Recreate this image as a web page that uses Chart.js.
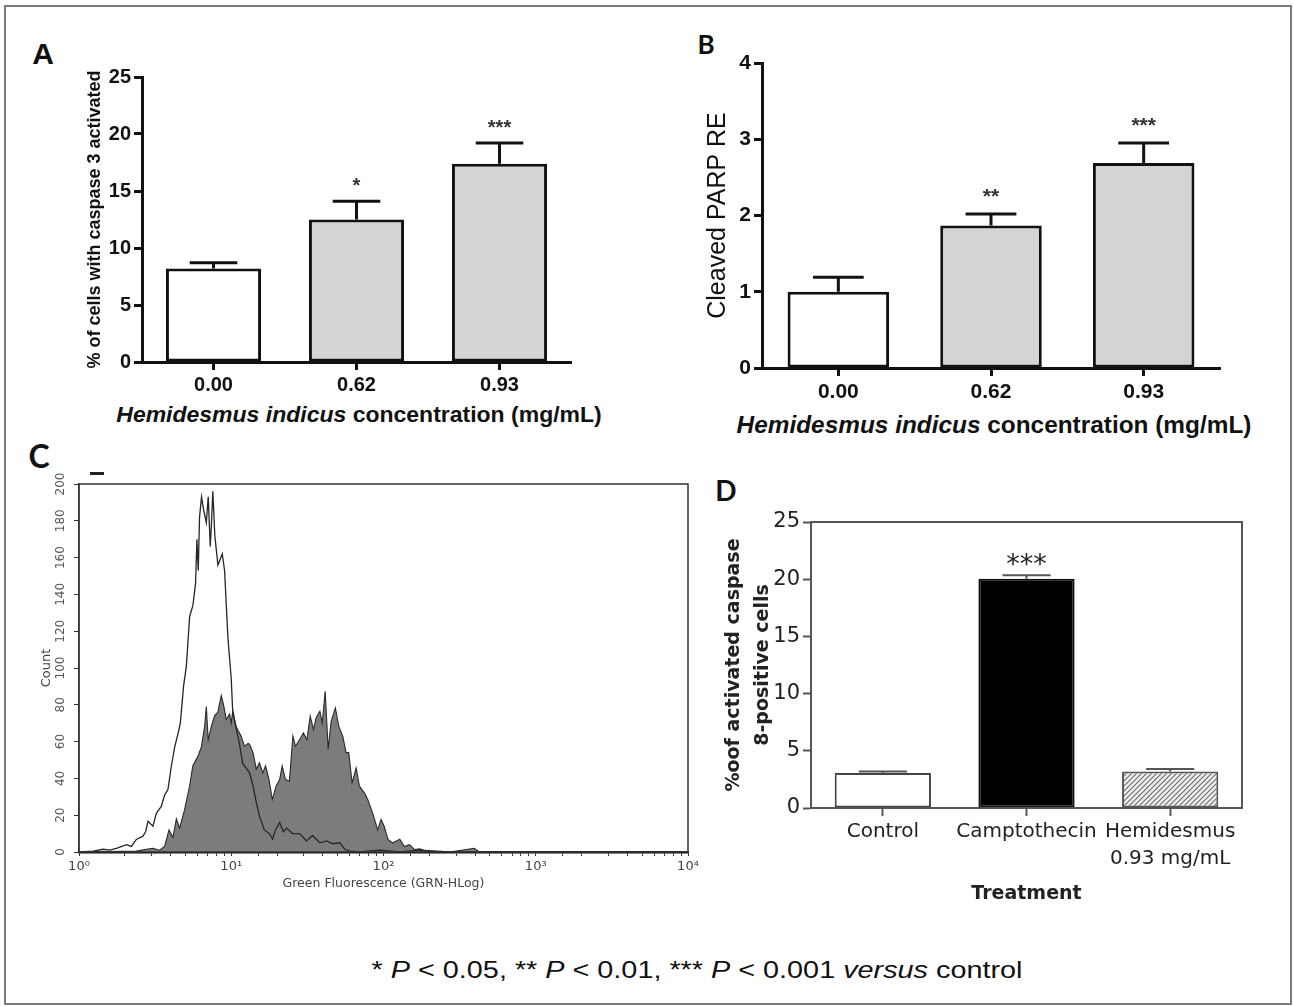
<!DOCTYPE html>
<html>
<head>
<meta charset="utf-8">
<script src="https://cdn.jsdelivr.net/npm/chart.js@4.4.1/dist/chart.umd.min.js"></script>
<style>
  body { margin: 0; background: #fff; }
  #page { position: relative; width: 1293px; height: 1006px; overflow: hidden; background: #fff; }
  .frame { position: absolute; left: 4px; top: 5px; width: 1284px; height: 996px; border: 2px solid #7b7b7b; }
  canvas { position: absolute; }
  .txt { position: absolute; white-space: nowrap; transform: translate(-50%, -50%); color: #111; line-height: 1; }
</style>
</head>
<body>
<div id="page">
  <div class="frame"></div>

  <div class="txt" style="left:43px;top:54px;font:bold 30px 'Liberation Sans';">A</div>
  <div class="txt" style="left:706px;top:44px;font:bold 26px Lato;">B</div>
  <div class="txt" style="left:39px;top:455px;font:bold 32px Lato;">C</div>
  <div class="txt" style="left:726px;top:490px;font:bold 28px Lato;">D</div>

  <canvas id="chartA" width="560" height="345" style="left:40px;top:55px"></canvas>
  <canvas id="chartB" width="600" height="370" style="left:660px;top:40px"></canvas>
  <canvas id="chartC" width="690" height="440" style="left:20px;top:462px"></canvas>
  <canvas id="chartD" width="580" height="420" style="left:700px;top:490px"></canvas>

  <div class="txt" style="left:359px;top:415px;font:bold 22px 'Liberation Sans';transform:translate(-50%,-50%) scaleX(1.045);"><i>Hemidesmus indicus</i> concentration (mg/mL)</div>
  <div class="txt" style="left:994px;top:425px;font:bold 23px 'Liberation Sans';transform:translate(-50%,-50%) scaleX(1.06);"><i>Hemidesmus indicus</i> concentration (mg/mL)</div>
  <div style="position:absolute;left:90px;top:472px;width:14px;height:3px;background:#222"></div>
  <div class="txt" style="left:697px;top:970px;font:24px 'Liberation Sans';transform:translate(-50%,-50%) scaleX(1.2);">* <i>P</i> &lt; 0.05, ** <i>P</i> &lt; 0.01, *** <i>P</i> &lt; 0.001 <i>versus</i> control</div>
</div>

<script>
// panel A - caspase 3
const concLabels = ['0.00', '0.62', '0.93'];
const casp3Mean = [8.2, 12.5, 17.4];
const casp3Err = [0.5, 1.6, 1.8];
const casp3Stars = ['', '*', '***'];

// panel B - cleaved PARP
const parpMean = [1.0, 1.87, 2.69];
const parpErr = [0.19, 0.15, 0.26];
const parpStars = ['', '**', '***'];

// panel C - flow histogram (control outline, treated filled)
const ctrlFluor = [1.00, 1.24, 1.44, 1.59, 1.76, 2.05, 2.21, 2.38, 2.63, 2.74, 2.84, 3.06, 3.22, 3.47, 3.65, 3.84, 4.04, 4.25, 4.46, 4.63,
  4.86, 5.07, 5.33, 5.60, 5.83, 5.95, 6.07, 6.19, 6.38, 6.58, 6.86, 7.06, 7.28, 7.42, 7.57, 7.80, 8.17, 8.73, 9.04, 9.50,
  10.0, 10.2, 10.6, 11.3, 11.9, 13.2, 13.9, 14.6, 15.3, 16.5, 17.8, 18.7, 19.5, 20.8, 22.0, 23.1, 25.3, 28.1, 31.2, 34.2,
  38.2, 42.4, 46.4, 51.6, 55.7, 60.0, 69.8, 94.4, 128, 173, 272, 579, 2620, 10000];
const ctrlCount = [0, 0.5, 1.5, 1, 2, 4, 3, 6.8, 8.6, 11, 16.7, 14, 21, 24.8, 31, 34, 46.6, 57, 64, 70,
  90, 101, 128, 134, 146, 170, 153, 182, 193, 186, 179, 193, 166, 179, 196, 172, 156, 162, 153, 117,
  94, 78, 70, 59, 48, 43, 36, 27, 19.6, 12, 10, 7, 12, 16, 11, 13, 10, 10, 6, 9,
  5, 6, 4.5, 5, 1.5, 0.5, 0, 1, 0, 1, 0, 0, 0, 0];
const treatFluor = [1.00, 2.38, 2.77, 3.06, 3.38, 3.65, 3.90, 4.14, 4.36, 4.58, 4.94, 5.33, 5.60, 6.04, 6.36, 6.68, 6.86, 7.06, 7.39, 7.77,
  8.17, 8.60, 8.90, 9.27, 9.75, 10.0, 10.2, 10.8, 11.1, 11.6, 12.2, 12.9, 13.2, 13.9, 14.6, 15.3, 16.1, 16.8, 17.7, 18.6,
  19.7, 20.8, 21.6, 22.7, 24.1, 25.4, 26.4, 28.1, 29.8, 31.4, 33.0, 34.7, 36.1, 38.2, 39.6, 41.4, 43.3, 45.3, 48.3, 50.8,
  54.0, 56.8, 59.1, 62.2, 66.1, 69.5, 75.0, 78.8, 85.0, 91.6, 96.4, 101, 107, 115, 128, 137, 148, 160, 173, 190,
  272, 395, 426, 579, 2620, 10000];
const treatCount = [0, 0.5, 1.5, 2, 1, 3, 12, 8, 18, 13, 23, 36, 47, 52, 57, 68, 79, 61, 68, 74,
  76, 85, 80, 72, 75, 70, 76, 68, 66, 63, 57.5, 59, 58.5, 54, 45, 48.5, 43, 46.8, 39.4, 28.5,
  35.8, 39.4, 46.8, 39.4, 38.5, 63, 57.5, 61, 64.7, 61, 73.8, 66.5, 73, 76.5, 70, 87.4, 55.7, 71, 78.3, 68.4,
  63, 54, 54, 37.6, 45.7, 35.8, 32, 28.5, 21, 12, 17.7, 14, 6.8, 4.9, 7, 3, 4, 1.3, 1.7, 0.5,
  0, 2, 0, 0, 0, 0];
const logTickLabels = ['10\u2070', '10\u00b9', '10\u00b2', '10\u00b3', '10\u2074'];

// panel D - caspase 8
const treatLabels = ['Control', 'Camptothecin', ['Hemidesmus', '0.93 mg/mL']];
const casp8Mean = [3.05, 20.05, 3.2];
const casp8Err = [0.15, 0.3, 0.2];
const casp8Stars = ['', '***', ''];

Chart.defaults.animation = false;
Chart.defaults.responsive = false;
Chart.defaults.plugins.legend.display = false;
Chart.defaults.plugins.tooltip.enabled = false;

// error bars (upper only) + significance stars
function errBars(errs, stars, o) {
  return {
    id: 'errBars',
    afterDatasetsDraw(chart) {
      const ctx = chart.ctx, ys = chart.scales.y;
      const vals = chart.data.datasets[0].data;
      ctx.save();
      chart.getDatasetMeta(0).data.forEach((bar, i) => {
        const top = ys.getPixelForValue(vals[i] + errs[i]);
        const half = bar.width * o.cap / 2;
        ctx.strokeStyle = o.color;
        ctx.lineWidth = o.width;
        ctx.beginPath();
        ctx.moveTo(bar.x, bar.y);
        ctx.lineTo(bar.x, top);
        ctx.moveTo(bar.x - half, top);
        ctx.lineTo(bar.x + half, top);
        ctx.stroke();
        if (stars[i]) {
          ctx.font = o.starFont;
          ctx.fillStyle = o.starColor;
          ctx.textAlign = 'center';
          ctx.textBaseline = 'alphabetic';
          ctx.fillText(stars[i], bar.x, top - o.starGap);
        }
      });
      ctx.restore();
    }
  };
}

function boxFrame(color, width) {
  return {
    id: 'boxFrame',
    afterDraw(chart) {
      const a = chart.chartArea, ctx = chart.ctx;
      ctx.save();
      ctx.strokeStyle = color;
      ctx.lineWidth = width;
      ctx.strokeRect(a.left, a.top, a.right - a.left, a.bottom - a.top);
      ctx.restore();
    }
  };
}

function prismBar(id, labels, means, errs, stars, cfg) {
  new Chart(document.getElementById(id), {
    type: 'bar',
    data: {
      labels: labels,
      datasets: [{
        data: means,
        backgroundColor: ['#ffffff', '#d4d4d4', '#d4d4d4'],
        borderColor: '#111',
        borderWidth: 3,
        borderSkipped: false,
        categoryPercentage: 0.665,
        barPercentage: 1
      }]
    },
    options: {
      layout: { padding: cfg.pad },
      scales: {
        x: {
          afterFit: s => { s.height = cfg.xh; },
          border: { color: '#111', width: 3 },
          grid: { offset: false, drawOnChartArea: false, tickLength: 8, tickWidth: 3, tickColor: '#111' },
          ticks: { color: '#111', padding: cfg.xpad, maxRotation: 0, font: { family: 'Liberation Sans', weight: 'bold', size: cfg.xfont } }
        },
        y: {
          min: 0, max: cfg.max,
          afterFit: s => { s.width = cfg.yw; },
          border: { color: '#111', width: 3 },
          grid: { drawOnChartArea: false, tickLength: 8, tickWidth: 3, tickColor: '#111' },
          ticks: { stepSize: cfg.step, color: '#111', padding: 3, font: { family: 'Liberation Sans', weight: 'bold', size: cfg.yfont } },
          title: { display: true, text: cfg.title, color: '#111', padding: { top: cfg.tpad }, font: cfg.tfont }
        }
      }
    },
    plugins: [errBars(errs, stars, { cap: 0.5, color: '#111', width: 3, starFont: cfg.starFont, starColor: '#333', starGap: cfg.starGap })]
  });
}

prismBar('chartA', concLabels, casp3Mean, casp3Err, casp3Stars, {
  pad: { top: 22, right: 29, left: 0, bottom: 0 }, xh: 38, yw: 102, xpad: 3, max: 25, step: 5,
  xfont: 20, yfont: 20, title: '% of cells with caspase 3 activated', tpad: 44,
  tfont: { family: 'Liberation Sans', weight: 'bold', size: 18 },
  starFont: 'bold 20px Liberation Sans', starGap: 9
});

prismBar('chartB', concLabels, parpMean, parpErr, parpStars, {
  pad: { top: 23, right: 40, left: 0, bottom: 0 }, xh: 42, yw: 102, xpad: 4, max: 4, step: 1,
  xfont: 21, yfont: 21, title: 'Cleaved PARP RE', tpad: 43,
  tfont: { family: 'Liberation Sans', size: 25 },
  starFont: 'bold 21px Liberation Sans', starGap: 11
});

// panel C histogram
const ctrlPts = ctrlFluor.map((f, i) => ({ x: f, y: ctrlCount[i] }));
const treatPts = treatFluor.map((f, i) => ({ x: f, y: treatCount[i] }));

new Chart(document.getElementById('chartC'), {
  type: 'line',
  data: {
    datasets: [
      { data: ctrlPts, borderColor: '#262626', borderWidth: 1.3, pointRadius: 0, fill: false, tension: 0, order: 0 },
      { data: treatPts, borderColor: '#2a2a2a', borderWidth: 1.1, backgroundColor: '#7c7c7c', pointRadius: 0, fill: 'origin', tension: 0, order: 1 }
    ]
  },
  options: {
    layout: { padding: { top: 22, right: 22, left: 0, bottom: 0 } },
    scales: {
      x: {
        type: 'logarithmic', min: 1, max: 10000,
        afterFit: s => { s.height = 50; },
        border: { color: '#111', width: 2.5 },
        grid: { drawOnChartArea: false, tickLength: 4, tickColor: '#333' },
        ticks: {
          autoSkip: false, maxRotation: 0, padding: 3, color: '#444',
          font: { family: 'DejaVu Sans', size: 13 },
          callback: v => {
            const e = Math.log10(v);
            return Math.abs(e - Math.round(e)) < 1e-9 ? logTickLabels[Math.round(e)] : '';
          }
        },
        title: { display: true, text: 'Green Fluorescence (GRN-HLog)', color: '#444', padding: { bottom: 11 }, font: { family: 'DejaVu Sans', size: 12.5 } }
      },
      y: {
        min: 0, max: 200,
        afterFit: s => { s.width = 59; },
        border: { color: '#333', width: 1.5 },
        grid: { drawOnChartArea: false, tickLength: 5, tickColor: '#333' },
        ticks: { stepSize: 20, color: 'rgba(0,0,0,0)', font: { family: 'DejaVu Sans', size: 11 } },
        title: { display: true, text: 'Count', color: '#444', padding: { top: 19 }, font: { family: 'DejaVu Sans', size: 13 } }
      }
    }
  },
  plugins: [boxFrame('#333', 1.5), {
    id: 'rotatedY',
    afterDraw(chart) {
      const ctx = chart.ctx, ys = chart.scales.y;
      ctx.save();
      ctx.font = '12px DejaVu Sans';
      ctx.fillStyle = '#555';
      ctx.textAlign = 'center';
      ctx.textBaseline = 'middle';
      ys.ticks.forEach(t => {
        ctx.save();
        ctx.translate(41, ys.getPixelForValue(t.value));
        ctx.rotate(-Math.PI / 2);
        ctx.fillText(String(t.value), 0, 0);
        ctx.restore();
      });
      ctx.restore();
    }
  }]
});

// panel D
function hatch() {
  const c = document.createElement('canvas');
  c.width = 5; c.height = 5;
  const g = c.getContext('2d');
  g.fillStyle = '#eeeeee';
  g.fillRect(0, 0, 5, 5);
  g.strokeStyle = '#6a6a6a';
  g.lineWidth = 1.1;
  g.beginPath();
  g.moveTo(0, 5); g.lineTo(5, 0);
  g.moveTo(-1, 1); g.lineTo(1, -1);
  g.moveTo(4, 6); g.lineTo(6, 4);
  g.stroke();
  return g.createPattern(c, 'repeat');
}

new Chart(document.getElementById('chartD'), {
  type: 'bar',
  data: {
    labels: treatLabels,
    datasets: [{
      data: casp8Mean,
      backgroundColor: ['#ffffff', '#000000', hatch()],
      borderColor: ['#444', '#111', '#555'],
      borderWidth: 2,
      borderSkipped: false,
      categoryPercentage: 0.67,
      barPercentage: 1
    }]
  },
  options: {
    layout: { padding: { top: 32, right: 38, left: 0, bottom: 0 } },
    scales: {
      x: {
        afterFit: s => { s.height = 102; },
        border: { color: '#555', width: 2 },
        grid: { offset: false, drawOnChartArea: false, tickLength: 8, tickWidth: 2, tickColor: '#555' },
        ticks: { autoSkip: false, maxRotation: 0, padding: 2, color: '#222', font: { family: 'DejaVu Sans', size: 20, lineHeight: 1.35 } },
        title: { display: true, text: 'Treatment', color: '#222', padding: { bottom: 5 }, font: { family: 'DejaVu Sans', weight: 'bold', size: 19 } }
      },
      y: {
        min: 0, max: 25,
        afterFit: s => { s.width = 111; },
        border: { color: '#555', width: 2 },
        grid: { drawOnChartArea: false, tickLength: 8, tickWidth: 2, tickColor: '#555' },
        ticks: { stepSize: 5, padding: 3, color: '#222', font: { family: 'DejaVu Sans', size: 21 } },
        title: { display: true, text: ['%oof activated caspase', '8-positive cells'], color: '#222', padding: { top: 20 }, font: { family: 'DejaVu Sans', weight: 'bold', size: 19, lineHeight: 1.5 } }
      }
    }
  },
  plugins: [boxFrame('#555', 2), errBars(casp8Err, casp8Stars, { cap: 0.5, color: '#555', width: 2, starFont: '27px DejaVu Sans', starColor: '#222', starGap: 2 })]
});
</script>
</body>
</html>
